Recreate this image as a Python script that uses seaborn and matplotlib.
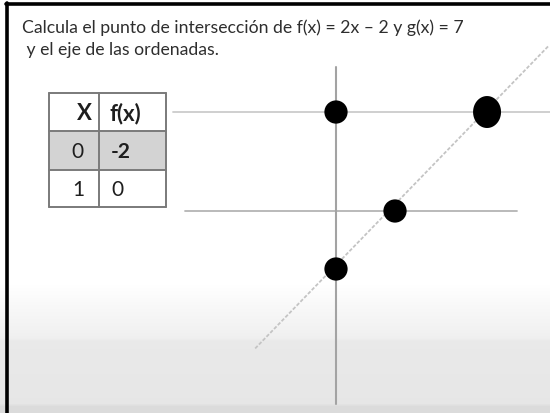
import numpy as np
import matplotlib
matplotlib.use("Agg")
import matplotlib.pyplot as plt
from matplotlib.path import Path
from matplotlib.patches import Rectangle
from matplotlib.lines import Line2D
from matplotlib.transforms import Affine2D
import seaborn as sns

# ---- content -------------------------------------------------------------
title_lines = [
    "Calcula el punto de intersección de f(x) = 2x \u2013 2 y g(x) = 7",
    " y el eje de las ordenadas.",
]
table_header = ["X", "f(x)"]
table_x = [0, 1]
table_fx = [-2, 0]

g_value = 7                      # g(x) = 7
f_line_x = [-1.37, 6.82]         # extent of the sketched line f(x) = 2x - 2
f_line_y = [-4.74, 11.64]
dots_x = [0, 1, 0]               # y-intercepts of g and f, root of f
dots_y = [7, 0, -2]
cross_x = [4.5]                  # f(x) = g(x)
cross_y = [7]

# ---- figure ----------------------------------------------------------------
W, H = 550, 414
sns.set_theme(style="white")
plt.rcParams["font.family"] = ["Lato", "DejaVu Sans"]
fig = plt.figure(figsize=(W / 100, H / 100), dpi=100)

# background: white sheet fading into grey towards the bottom
rows = np.arange(H)
shade = np.interp(rows, [0, 285, 338, 342, 404, 407, 414],
                  [1.0, 1.0, 0.94, 0.915, 0.905, 0.86, 0.86])
bg = np.repeat(shade[:, None], W, axis=1)
fig.figimage(np.dstack([bg, bg, bg]), xo=0, yo=0, origin="upper", zorder=-10)

# pixel-coordinate transform (origin top-left)
pix = Affine2D().scale(1 / W, -1 / H).translate(0, 1) + fig.transFigure

# black frame on the left and top edges
fig.add_artist(Line2D([6.5, 6.5], [4, H], transform=pix, color="black", lw=2.6, zorder=5))
fig.add_artist(Line2D([6, W], [4.5, 4.5], transform=pix, color="black", lw=2.6, zorder=5))

# title
for i, line in enumerate(title_lines):
    fig.text(22 / W, 1 - (28 + 22 * i) / H, line, fontsize=12.7, color="#2e2e2e",
             va="center", ha="left")

# value table
edges_x = [49, 99, 166]
edges_y = [94, 132, 171, 208]
fig.add_artist(Rectangle((edges_x[0], edges_y[1]), edges_x[2] - edges_x[0],
                         edges_y[2] - edges_y[1], transform=pix,
                         facecolor="#d3d3d3", edgecolor="none", zorder=2))
for yy in edges_y:
    fig.add_artist(Line2D([edges_x[0], edges_x[2]], [yy, yy], transform=pix,
                          color="#7a7a7a", lw=1.4, zorder=3))
for xx in edges_x:
    fig.add_artist(Line2D([xx, xx], [edges_y[0], edges_y[-1]], transform=pix,
                          color="#7a7a7a", lw=1.4, zorder=3))

def cell_text(x, y, s, ha, weight, size=15):
    fig.text(x / W, 1 - y / H, s, ha=ha, va="center", fontsize=size,
             color="#1e1e1e", fontweight=weight, zorder=4)

cell_text(92, 114, table_header[0], "right", "bold", 16)
cell_text(109, 114, table_header[1], "left", "bold", 16)
for r, (xv, fv) in enumerate(zip(table_x, table_fx)):
    yc = (edges_y[r + 1] + edges_y[r + 2]) / 2
    cell_text(84, yc, f"{xv}", "right", "normal")
    cell_text(111, yc, f"{fv}", "left", "bold" if fv < 0 else "normal")

# ---- sketch axes -----------------------------------------------------------
ax = fig.add_axes([0, 0, 1, 1])
ax.set_zorder(3)
ax.patch.set_visible(False)
ax.axis("off")

# the sketch is not to scale: piecewise-linear axes reproduce its proportions
def x_fwd(x):
    x = np.asarray(x, float)
    return np.where(x <= 1, 59 * x, 59 + (x - 1) * 26.3)

def x_inv(u):
    u = np.asarray(u, float)
    return np.where(u <= 59, u / 59, 1 + (u - 59) / 26.3)

def y_fwd(y):
    y = np.asarray(y, float)
    return np.where(y >= 0, 14.14 * y, 29 * y)

def y_inv(v):
    v = np.asarray(v, float)
    return np.where(v >= 0, v / 14.14, v / 29)

ax.set_xscale("function", functions=(x_fwd, x_inv))
ax.set_yscale("function", functions=(y_fwd, y_inv))
ax.set_xlim(float(x_inv(-336)), float(x_inv(W - 336)))
ax.set_ylim(float(y_inv(212 - H)), float(y_inv(212)))

# g(x) = 7
sns.lineplot(x=[float(x_inv(173 - 336)), float(x_inv(W - 336))], y=[g_value, g_value],
             color="#cbcbcb", lw=1.3, ax=ax, zorder=2)
# x axis
sns.lineplot(x=[float(x_inv(185 - 336)), float(x_inv(517 - 336))], y=[0, 0],
             color="#b4b4b4", lw=1.3, ax=ax, zorder=2)
# y axis
ax.plot([0, 0], [float(y_inv(212 - 68)), float(y_inv(212 - 405))],
        color="#a3a3a3", lw=1.5, zorder=2)
# f(x) = 2x - 2
sns.lineplot(x=f_line_x, y=f_line_y, sort=False, color="#c4c4c4", lw=1.3,
             linestyle=(0, (2, 1)), ax=ax, zorder=2)

# intersection points
sns.scatterplot(x=dots_x, y=dots_y, s=280, color="black", edgecolor="none",
                ax=ax, zorder=4)
t = np.linspace(0, 2 * np.pi, 60)
ellipse = Path(np.column_stack([0.875 * np.cos(t), np.sin(t)]))
sns.scatterplot(x=cross_x, y=cross_y, s=530, marker=ellipse, color="black",
                edgecolor="none", ax=ax, zorder=4)

fig.savefig("out.png", dpi=100)
